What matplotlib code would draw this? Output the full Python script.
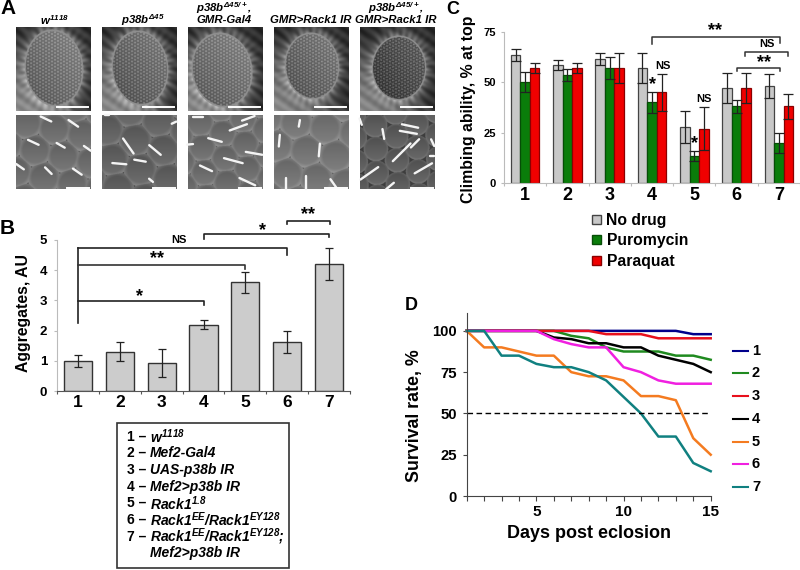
import numpy as np
import matplotlib
matplotlib.use("Agg")
import matplotlib.pyplot as plt
from matplotlib.patches import Rectangle

plt.rcParams['font.family'] = ['Liberation Sans', 'DejaVu Sans']
plt.rcParams['font.weight'] = 'bold'
plt.rcParams['axes.labelweight'] = 'bold'
plt.rcParams['mathtext.fontset'] = 'custom'
plt.rcParams['mathtext.rm'] = 'Liberation Sans:italic:bold'
plt.rcParams['mathtext.it'] = 'Liberation Sans:italic:bold'
plt.rcParams['mathtext.bf'] = 'Liberation Sans:italic:bold'

groups = [1, 2, 3, 4, 5, 6, 7]
group_labels = ['1', '2', '3', '4', '5', '6', '7']

# panel B
aggregates = [1.0, 1.3, 0.92, 2.2, 3.6, 1.63, 4.2]
aggregates_err = [0.2, 0.31, 0.46, 0.16, 0.35, 0.37, 0.52]
genotypes = [r'$w^{1118}$', 'Mef2-Gal4', 'UAS-p38b IR', 'Mef2>p38b IR',
             r'$Rack1^{1.8}$', r'$Rack1^{EE}/Rack1^{EY128}$',
             r'$Rack1^{EE}/Rack1^{EY128}$;', 'Mef2>p38b IR']
genotype_nums = ['1 –', '2 –', '3 –', '4 –', '5 –', '6 –', '7 –', '']

# panel C
no_drug = [63.5, 58.5, 61.5, 57, 28, 47, 48]
no_drug_err = [3, 2.5, 3, 7.5, 8, 7.5, 6]
puromycin = [50, 53.5, 57, 40, 13.5, 38, 20]
puromycin_err = [5, 3, 5.5, 5, 2.5, 3, 5]
paraquat = [57, 57, 57, 45, 27, 47, 38]
paraquat_err = [2.5, 2.5, 7.5, 9, 10.5, 7.5, 6]

# panel D
days = list(range(1, 16))
line1 = [100, 100, 100, 100, 100, 100, 100, 100, 100, 100, 100, 100, 100, 98, 98]
line2 = [100, 100, 100, 100, 100, 100, 97, 95.5, 90, 87.5, 87.5, 87.5, 85, 85, 82.5]
line3 = [100, 100, 100, 100, 100, 100, 100, 100, 98, 98, 98, 95.5, 95.5, 95.5, 95.5]
line4 = [100, 100, 100, 100, 100, 96, 95, 92.5, 92.5, 90, 90, 85, 82.5, 80, 75]
line5 = [100, 90, 90, 87.5, 85, 85, 75, 72.5, 72.5, 70, 60.5, 60.5, 58, 35, 25]
line6 = [100, 100, 100, 100, 100, 95, 92, 90, 90, 78, 75, 70, 68, 68, 68]
line7 = [100, 100, 85, 85, 80, 78, 78, 75, 70, 60, 50, 36, 36, 20, 15]
line_colors = ['#00008b', '#1f8a1f', '#e8101c', '#000000', '#f47b20', '#f020e0', '#108080']

# panel A headings
photo_titles = [r'$w^{1118}$', r'$p38b^{\Delta 45}$', r'$p38b^{\Delta 45/+}$,',
                'GMR>Rack1 IR', r'$p38b^{\Delta 45/+}$,']
photo_left = [16, 102, 188, 274, 360]
photo_mid = [55, 143, 224, 311, 396]

# bristles on the close-ups: x, y, length, angle (zoomed pixels)
bristles = [
    [(138, 357, 35, -25), (220, 370, 35, -35), (100, 427, 35, -25), (182, 436, 28, -30),
     (262, 445, 25, -35), (60, 500, 28, -35), (145, 512, 28, -45), (232, 515, 32, -35)],
    [(385, 438, 55, -55), (465, 450, 45, -40), (358, 491, 42, -5), (420, 482, 35, -10),
     (453, 541, 15, -40), (522, 368, 15, 25), (320, 345, 12, 0)],
    [(715, 382, 55, 20), (645, 420, 42, -15), (700, 482, 58, -15), (762, 460, 50, -10),
     (742, 545, 52, -25), (618, 505, 40, -25), (570, 433, 18, 5), (745, 355, 40, 20),
     (595, 352, 30, 0)],
    [(838, 422, 35, 85), (898, 370, 20, 80), (958, 450, 38, 85), (917, 548, 40, 90),
     (858, 550, 35, 90), (1000, 550, 30, -55)],
    [(1230, 378, 50, -12), (1225, 397, 52, -10), (1205, 457, 75, 45), (1245, 430, 35, 45),
     (1150, 402, 30, -80), (1108, 520, 65, 35), (1270, 505, 60, 30), (1298, 428, 22, -65),
     (1296, 467, 10, 0), (1170, 558, 30, 40), (1082, 365, 20, -70)],
]


def place(left, top, right, bottom):
    return [left/800, 1 - bottom/570, (right - left)/800, (bottom - top)/570]


def eye_image(cx, cy, rx, ry, tilt, dark, speck):
    yy, xx = np.mgrid[0:84:336j, 0:75:300j]
    t = np.radians(tilt)
    u = (xx - cx)*np.cos(t) + (yy - cy)*np.sin(t)
    v = -(xx - cx)*np.sin(t) + (yy - cy)*np.cos(t)
    r = np.sqrt((u/rx)**2 + (v/ry)**2)
    theta = np.arctan2(v, u)
    fur = 0.16 + 0.36*np.exp(-np.clip(r - 1.05, 0, None)/0.22)*(0.8 + 0.2*np.sin(theta*34))
    fur = fur + 0.05*np.sin(0.35*xx - 0.5*yy) + 0.005*np.clip(cx - xx + yy - cy, 0, None)
    k = 2*np.pi/3.0
    lattice = (np.cos(k*xx) + np.cos(k*(0.5*xx + 0.87*yy)) + np.cos(k*(-0.5*xx + 0.87*yy)))/3
    eye = dark + 0.16*lattice + 0.05*u/rx - 0.04*v/ry
    eye = eye + speck*np.clip(np.sin(1.9*xx + 0.7*yy)*np.sin(1.3*xx - 2.1*yy) - 0.6, 0, None)
    img = np.where(r < 1.0, eye, fur)
    img = np.where((r >= 1.0) & (r < 1.05), 0.56, img)
    return np.clip(img, 0, 1)


def facet_image(spacing, angle, x0, y0, base, pinch):
    yy, xx = np.mgrid[0:74:222j, 0:75:225j]
    t = np.radians(angle)
    a = np.array([np.cos(t), np.sin(t)])*spacing
    b = np.array([np.cos(t + np.pi/3), np.sin(t + np.pi/3)])*spacing
    best = np.full(xx.shape, 1e9)
    dy_best = np.zeros(xx.shape)
    for i in range(-8, 9):
        for j in range(-8, 9):
            sx = x0 + i*a[0] + j*b[0]
            sy = y0 + i*a[1] + j*b[1]
            d = np.hypot(xx - sx, yy - sy)
            dy_best = np.where(d < best, yy - sy, dy_best)
            best = np.minimum(best, d)
    n = best/(spacing*0.56)
    img = base + 0.1*dy_best/spacing + 0.1*np.clip(n - 0.75, 0, None)/0.25
    img = np.where(n > 1.0 - pinch, base - 0.12, img)
    return np.clip(img, 0, 1)


eye_settings = [(38, 41, 28, 37, -6, 0.46, 0.0), (38, 41, 27, 36, -6, 0.42, 0.2),
                (34, 43, 29, 36, -10, 0.46, 0.0), (38, 39, 26, 32, -5, 0.42, 0.35),
                (39, 41, 26, 31, 0, 0.3, 0.7)]
facet_settings = [(29, 12, 10, 8, 0.42, 0.0), (30, 20, 5, 15, 0.38, 0.0),
                  (25, 25, 12, 8, 0.42, 0.0), (30, 10, 22, 8, 0.45, 0.0),
                  (24, 28, 15, 10, 0.36, 0.08)]

fig = plt.figure(figsize=(8, 5.7), dpi=100)

canvas = fig.add_axes([0, 0, 1, 1])
for i, left in enumerate(photo_left):
    canvas.imshow(eye_image(*eye_settings[i]), cmap='gray', vmin=0, vmax=1, aspect='auto',
                  extent=(left, left + 75, 111, 27))
    canvas.imshow(facet_image(*facet_settings[i]), cmap='gray', vmin=0, vmax=1, aspect='auto',
                  extent=(left, left + 75, 189, 115))
    clip = Rectangle((left, 115), 75, 74, transform=canvas.transData)
    for bx, by, blen, bang in bristles[i]:
        a = np.radians(bang)
        dx = blen/6*np.cos(a)
        dy = blen/6*np.sin(a)
        canvas.plot([bx/3 - dx, bx/3 + dx], [by/3 + dy, by/3 - dy], color='#f4f4f4', lw=1.7,
                    solid_capstyle='round', clip_path=clip)
    canvas.plot([left + 41, left + 72], [107, 107], color='white', lw=1.4)
    canvas.plot([left + 51, left + 73], [187.5, 187.5], color='white', lw=1.4)
    canvas.text(photo_mid[i], 20 if i != 2 and i != 4 else 8, photo_titles[i], fontsize=8.2,
                style='italic', ha='center', va='center')
canvas.text(224, 20, 'GMR-Gal4', fontsize=8.2, style='italic', ha='center', va='center')
canvas.text(396, 20, 'GMR>Rack1 IR', fontsize=8.2, style='italic', ha='center', va='center')

canvas.text(0, 9, 'A', fontsize=15, ha='left', va='center')
canvas.text(0, 229, 'B', fontsize=15, ha='left', va='center')
canvas.text(446, 9, 'C', fontsize=13, ha='left', va='center')
canvas.text(405, 306, 'D', fontsize=13, ha='left', va='center')

# genotype key under panel B
canvas.add_patch(Rectangle((117, 423), 172, 145, fc='white', ec='#333333', lw=1.2))
for i, name in enumerate(genotypes):
    y = 436.7 + i*16.65
    canvas.text(127, y, genotype_nums[i], fontsize=10, ha='left', va='center')
    canvas.text(150, y, name, fontsize=10, style='italic', ha='left', va='center')

# panel C key
key_colors = ['#c8c8c8', '#0a7d0a', '#f00000']
key_edges = ['#444444', '#064d06', '#8b0000']
key_names = ['No drug', 'Puromycin', 'Paraquat']
for i, name in enumerate(key_names):
    y = 219 + i*20.8
    canvas.add_patch(Rectangle((591.5, y - 4.5), 9, 9, fc=key_colors[i], ec=key_edges[i], lw=1))
    canvas.text(606.5, y + 1, name, fontsize=11.3, ha='left', va='center')

# panel D key
key_y = [350.7, 373.3, 396, 419.3, 442, 464, 486.7]
for i, y in enumerate(key_y):
    canvas.plot([733, 748], [y, y], color=line_colors[i], lw=1.5)
    canvas.text(752, y, group_labels[i], fontsize=10.5, ha='left', va='center')

canvas.set_xlim(0, 800)
canvas.set_ylim(570, 0)
canvas.axis('off')

# B
ax = fig.add_axes(place(57, 240, 350, 391), facecolor='none')
ax.bar(groups, aggregates, width=0.67, color='#cccccc', edgecolor='#333333', linewidth=1,
       yerr=aggregates_err, ecolor='#222222',
       error_kw={'elinewidth': 0.9, 'capsize': 2.9, 'capthick': 0.9})
ax.set_xlim(0.5, 7.5)
ax.set_ylim(0, 5)
ax.set_yticks([0, 1, 2, 3, 4, 5])
ax.set_xticks(groups, group_labels, fontsize=12.5)
ax.set_xticks(np.arange(0.5, 8), minor=True)
ax.tick_params(axis='x', which='major', length=0, pad=3)
ax.tick_params(axis='x', which='minor', length=2.5, color='#555555', width=0.8)
ax.tick_params(axis='y', length=2, color='#bbbbbb', labelsize=9.5, pad=5)
ax.spines['top'].set_visible(False)
ax.spines['right'].set_visible(False)
ax.spines['left'].set_color('#bbbbbb')
ax.spines['bottom'].set_color('#555555')
ax.set_ylabel('Aggregates, AU', fontsize=11.3)
ax.yaxis.set_label_coords(-0.09, 0.518)
ax.plot([1, 1], [2.26, 4.72], color='#222222', lw=1.2, clip_on=False)
ax.plot([1, 6, 6], [4.72, 4.72, 4.5], color='#222222', lw=1.2, clip_on=False)
ax.plot([1, 5, 5], [4.17, 4.17, 4.04], color='#333333', lw=1.2, clip_on=False)
ax.plot([1, 4, 4], [2.98, 2.98, 2.85], color='#222222', lw=1.2, clip_on=False)
ax.plot([4, 4, 7, 7], [5.03, 5.19, 5.19, 5.1], color='#222222', lw=1.2, clip_on=False)
ax.plot([6, 6, 7.03, 7.03], [5.52, 5.62, 5.62, 5.52], color='#222222', lw=1.2, clip_on=False)
ax.text(3.42, 5.0, 'NS', fontsize=8, ha='center', va='center')
ax.text(2.9, 4.4, '**', fontsize=13, ha='center', va='center')
ax.text(2.46, 3.13, '*', fontsize=13, ha='center', va='center')
ax.text(5.42, 5.3, '*', fontsize=13, ha='center', va='center')
ax.text(6.5, 5.85, '**', fontsize=13, ha='center', va='center')

# C
ax = fig.add_axes(place(504, 32.3, 800, 182.7), facecolor='none')
x = np.array(groups)
w = 0.226
error_style = {'elinewidth': 0.9, 'capsize': 3.4, 'capthick': 0.9}
ax.bar(x - w, no_drug, width=w, color=key_colors[0], edgecolor=key_edges[0], linewidth=0.9,
       yerr=no_drug_err, ecolor='#222222', error_kw=error_style)
ax.bar(x, puromycin, width=w, color=key_colors[1], edgecolor=key_edges[1], linewidth=0.9,
       yerr=puromycin_err, ecolor='#222222', error_kw=error_style)
ax.bar(x + w, paraquat, width=w, color=key_colors[2], edgecolor=key_edges[2], linewidth=0.9,
       yerr=paraquat_err, ecolor='#222222', error_kw=error_style)
ax.set_xlim(0.5, 7.5)
ax.set_ylim(0, 75)
ax.set_yticks([0, 25, 50, 75])
ax.set_xticks(groups, group_labels, fontsize=13)
ax.set_xticks(np.arange(0.5, 8), minor=True)
ax.tick_params(axis='x', which='major', length=0, pad=3)
ax.tick_params(axis='x', which='minor', length=2, color='#bbbbbb', width=0.8)
ax.tick_params(axis='y', length=2, color='#bbbbbb', labelsize=8, pad=4)
ax.spines['top'].set_visible(False)
ax.spines['right'].set_visible(False)
ax.spines['left'].set_color('#bbbbbb')
ax.spines['bottom'].set_color('#bbbbbb')
ax.set_ylabel('Climbing ability, % at top', fontsize=11.4)
ax.yaxis.set_label_coords(-0.095, 0.49)
ax.plot([4, 4, 7.03, 7.03], [69, 72.9, 72.9, 69.5], color='#333333', lw=1.1, clip_on=False)
ax.plot([6.2, 6.2, 7.21, 7.21], [63.4, 65.4, 65.4, 63.4], color='#333333', lw=1.1)
ax.plot([6, 6, 7.03, 7.03], [55.7, 57.4, 57.4, 55.7], color='#333333', lw=1.1)
ax.text(5.5, 76, '**', fontsize=13, ha='center', va='center', clip_on=False)
ax.text(6.72, 69.2, 'NS', fontsize=8, ha='center', va='center')
ax.text(6.65, 60, '**', fontsize=13, ha='center', va='center')
ax.text(4.26, 58.2, 'NS', fontsize=8, ha='center', va='center')
ax.text(4.02, 49, '*', fontsize=13, ha='center', va='center')
ax.text(5.24, 41.8, 'NS', fontsize=8, ha='center', va='center')
ax.text(5.0, 19.5, '*', fontsize=13, ha='center', va='center')

# D
ax = fig.add_axes(place(466.7, 312.7, 710.7, 496), facecolor='none')
all_lines = [line1, line2, line3, line4, line5, line6, line7]
draw_order = [0, 1, 3, 2, 5, 4, 6]
for i in draw_order:
    ax.plot(days, all_lines[i], color=line_colors[i], lw=1.8, solid_joinstyle='round', clip_on=False)
ax.plot([days[0], days[-1]], [50, 50], color='black', lw=1, dashes=(4, 2.5))
ax.set_xlim(1, 15)
ax.set_ylim(0, 111)
ax.set_yticks([0, 25, 50, 75, 100])
ax.set_xticks([5, 10, 15])
ax.set_xticks(days, minor=True)
ax.tick_params(axis='x', which='both', length=3.5, color='#444444', width=0.8, labelsize=11, pad=3)
ax.tick_params(axis='y', length=3, color='#444444', width=0.8, labelsize=10.7, pad=4)
ax.spines['top'].set_visible(False)
ax.spines['right'].set_visible(False)
ax.spines['left'].set_color('#444444')
ax.spines['bottom'].set_color('#444444')
ax.set_xlabel('Days post eclosion', fontsize=13, labelpad=4)
ax.set_ylabel('Survival rate, %', fontsize=12.8)
ax.yaxis.set_label_coords(-0.18, 0.44)

fig.savefig('out.png', dpi=100)
